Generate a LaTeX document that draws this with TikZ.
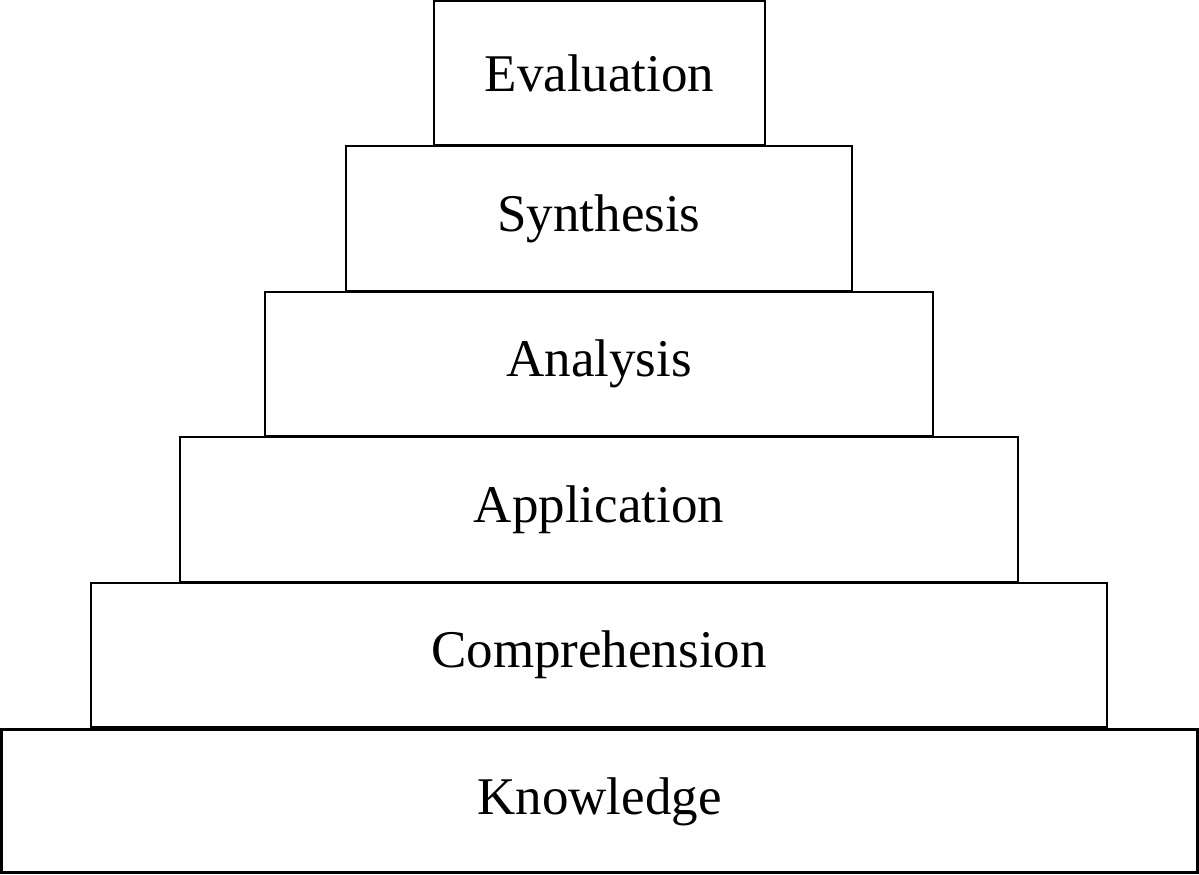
\documentclass[tikz,border=0pt]{standalone}
\usepackage{fontspec}
\setmainfont{Liberation Serif}
\begin{document}
\begin{tikzpicture}[x=1pt,y=1pt,
  lvl/.style={draw=black, line width=2pt, fill=white, rectangle, inner sep=0pt,
    font=\fontsize{53}{63}\selectfont, text=black}]
\useasboundingbox (0,0) rectangle (1199,875);
\node[lvl, minimum width=331, minimum height=144] (eval) at (599.5,802) {Evaluation};
\node[lvl, minimum width=506, minimum height=145] (syn) at (599,656.5) {Synthesis};
\node[lvl, minimum width=668, minimum height=144] (ana) at (599,511) {Analysis};
\node[lvl, minimum width=838, minimum height=145] (app) at (599,365.5) {Application};
\node[lvl, minimum width=1016, minimum height=144] (comp) at (599,220) {Comprehension};
\node[lvl, line width=3pt, minimum width=1196, minimum height=143] (know) at (599.5,73.5) {Knowledge};
\end{tikzpicture}
\end{document}
